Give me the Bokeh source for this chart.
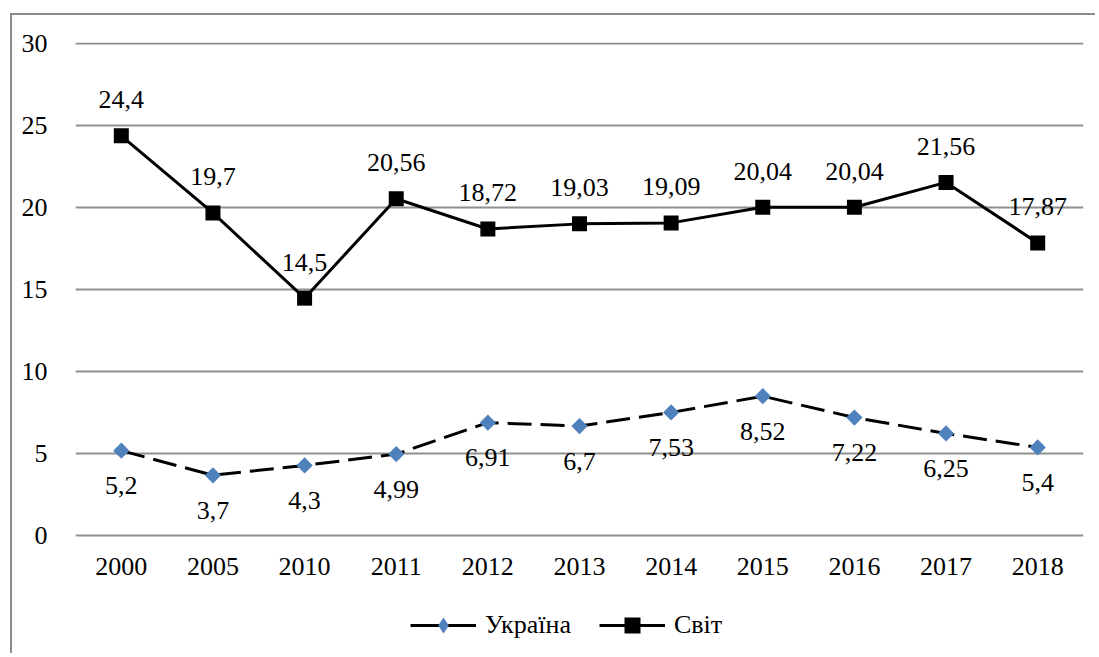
import numpy as np
from bokeh.plotting import figure
from bokeh.models import Range1d, FactorRange, ColumnDataSource, Legend, LegendItem, FixedTicker
from bokeh.core.properties import value
from bokeh.embed import file_html
from bokeh.resources import INLINE

years = ["2000", "2005", "2010", "2011", "2012", "2013", "2014", "2015", "2016", "2017", "2018"]
ukraine = [5.2, 3.7, 4.3, 4.99, 6.91, 6.7, 7.53, 8.52, 7.22, 6.25, 5.4]
world = [24.4, 19.7, 14.5, 20.56, 18.72, 19.03, 19.09, 20.04, 20.04, 21.56, 17.87]
y_ticks = [0, 5, 10, 15, 20, 25, 30]
series_names = ["Україна", "Світ"]

FONT = "Liberation Serif"
FS = "26px"
BLUE = "#4F81BD"
GRID = "#8f8f8f"

def fmt(v):
    return str(v).replace(".", ",")

src_u = ColumnDataSource(dict(x=years, y=ukraine, t=[fmt(v) for v in ukraine]))
src_w = ColumnDataSource(dict(x=years, y=world, t=[fmt(v) for v in world]))
src_x = ColumnDataSource(dict(x=years, y=[0] * len(years), t=years))

p = figure(x_range=FactorRange(*years), y_range=Range1d(-7.29, 30.09),
           width=1085, height=640, output_backend="svg", toolbar_location=None,
           x_axis_location=None,
           min_border_left=63, min_border_right=14, min_border_top=27, min_border_bottom=0)
p.styles = {"border-left": "2px solid #8c8c8c", "border-top": "2px solid #8c8c8c",
            "margin-left": "10px", "margin-top": "13px"}
p.outline_line_color = None
p.background_fill_color = "white"
p.border_fill_color = "white"

p.xgrid.grid_line_color = None
p.ygrid.grid_line_color = GRID
p.ygrid.grid_line_width = 2
p.yaxis.ticker = FixedTicker(ticks=y_ticks)
p.yaxis.axis_line_color = None
p.yaxis.major_tick_line_color = None
p.yaxis.minor_tick_line_color = None
p.yaxis.major_label_text_font = FONT
p.yaxis.major_label_text_font_size = FS
p.yaxis.major_label_text_color = "black"
p.yaxis.major_label_standoff = 22

# category labels under the zero line
p.text("x", "y", text="t", source=src_x, text_align="center", text_baseline="alphabetic",
       y_offset=31, text_font=value(FONT), text_font_size=FS, text_color="black")

# World
p.line("x", "y", source=src_w, line_color="black", line_width=3)
p.scatter("x", "y", source=src_w, marker="square", size=15, fill_color="black", line_color=None)
p.text("x", "y", text="t", source=src_w, text_align="center", text_baseline="alphabetic",
       y_offset=-36, text_font=value(FONT), text_font_size=FS, text_color="black")

# Ukraine
p.line("x", "y", source=src_u, line_color="black", line_width=3, line_dash="24 9")
p.scatter("x", "y", source=src_u, marker="square", angle=np.pi / 4, size=11.5,
          fill_color=BLUE, line_color=None)
p.text("x", "y", text="t", source=src_u, text_align="center", text_baseline="alphabetic",
       y_offset=35, text_font=value(FONT), text_font_size=FS, text_color="black")

# legend proxies (one NaN point so nothing is drawn in the plot)
ghost = ColumnDataSource(dict(x=[years[0]], y=[np.nan]))
gu1 = p.line("x", "y", source=ghost, line_color="black", line_width=3)
gu2 = p.scatter("x", "y", source=ghost, marker="diamond", size=15,
                fill_color=BLUE, line_color=None)
gw1 = p.line("x", "y", source=ghost, line_color="black", line_width=3)
gw2 = p.scatter("x", "y", source=ghost, marker="square", size=15, fill_color="black", line_color=None)

legend = Legend(items=[LegendItem(label=series_names[0], renderers=[gu1, gu2]),
                       LegendItem(label=series_names[1], renderers=[gw1, gw2])],
                orientation="horizontal", location=(335, 10), glyph_width=66, glyph_height=40,
                label_height=40, label_standoff=9, spacing=28, padding=0, margin=0,
                border_line_color=None, background_fill_alpha=0,
                label_text_font=FONT, label_text_font_size=FS, label_text_color="black")
p.add_layout(legend, "center")

open("out.html", "w").write(file_html(p, INLINE))
